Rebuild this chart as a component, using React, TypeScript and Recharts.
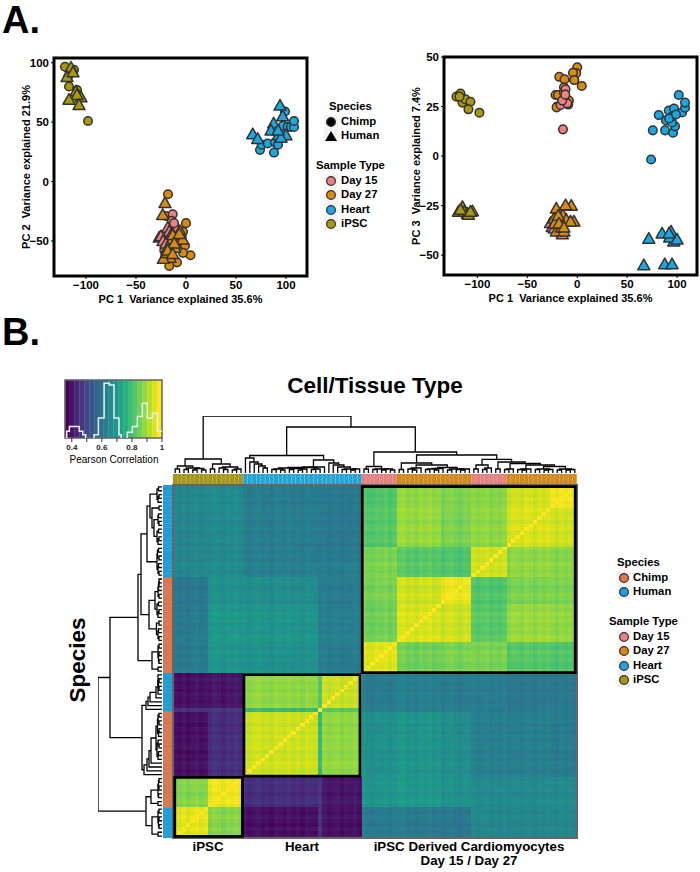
import {
  ScatterChart, Scatter, XAxis, YAxis, ReferenceArea,
  ComposedChart, Line, BarChart, Bar, Cell,
} from 'recharts'

const FONT = '"Liberation Sans", Arial, sans-serif'

const typeColors: Record<string, string> = {
  'Day 15': '#F07F7F',
  'Day 27': '#D98A0F',
  Heart: '#1BA8E0',
  iPSC: '#A89A0B',
}
const speciesColors: Record<string, string> = { Chimp: '#E0784F', Human: '#1BA0DE' }

// PCA values, one list per sample group
const ipscChimpPc1 = [-121, -117, -115, -112, -107, -109, -98, -118]
const ipscChimpPc2 = [96.6, 80, 92, 94, 71, 77, 51, 88]
const ipscChimpPc3 = [30, 31.6, 27, 28.6, 27.4, 23.6, 21.9, 30]
const ipscHumanPc1 = [-115, -119, -113, -110, -105, -109, -117, -107]
const ipscHumanPc2 = [96, 88, 92, 76, 71, 73, 69, 64.5]
const ipscHumanPc3 = [-25.6, -28, -28, -29, -27.8, -29.5, -27, -28]
const heartChimpPc1 = [74, 75.7, 81.7, 88, 89, 96, 98, 95, 91.7, 95, 97, 101.7, 105, 108, 108, 92, 99]
const heartChimpPc2 = [26.7, 31, 32, 24.4, 33, 37, 38, 42, 40, 43, 47, 46, 46, 46, 51, 31, 59]
const heartChimpPc3 = [-1.7, 13, 20.7, 13, 18, 11.8, 15, 17, 23, 20, 24, 30.8, 22, 24.4, 27, 19, 21]
const heartHumanPc1 = [94, 96.7, 66.7, 71.7, 87.7, 85, 92.7, 100, 95, 92]
const heartHumanPc2 = [64, 55, 40, 36, 49, 43, 39, 39, 37, 43]
const heartHumanPc3 = [-38, -43, -55, -41.6, -54.5, -39, -41, -42, -54.5, -39]
const day27ChimpPc1 = [-18, 0, 4.5, -1, -3, -12.7, -16.7, -9, -4.3, -20, -21.7, -19.3, -20.7, -11.7, -8.3, -3, -13.3]
const day27ChimpPc2 = [-10.7, -35, -62, -54, -60, -67, -71, -68, -47, -29, -58, -65, -62, -52, -50, -42, -55]
const day27ChimpPc3 = [40, 44.8, 35.4, 41.8, 38.4, 38.7, 30.8, 26, 42, 25, 30.8, 30.8, 24.6, 27.4, 28, 38.4, 34.7]
const day15ChimpPc1 = [-13.3, -14.3, -11.7, -13, -16.7, -10, -15, -12]
const day15ChimpPc2 = [-27.5, -33, -37, -45, -52, -40, -48, -35]
const day15ChimpPc3 = [32, 13.5, 33.7, 29, 25.8, 26.6, 28, 31]
const day27HumanPc1 = [-21, -23.3, -6, -3.3, -14.3, -18.3, -11, -21, -16, -22.7, -19, -13.3, -6.7, -11.7, -18.3, -13.3]
const day27HumanPc2 = [-18, -28, -41.6, -48.6, -49, -55.6, -55.6, -64, -64, -65, -60, -45, -44, -52, -58, -61]
const day27HumanPc3 = [-26.4, -31.5, -25, -33, -29.8, -37.4, -32, -38, -36, -34, -30, -38, -33, -24.7, -34, -36]
const day15HumanPc1 = [-26.7, -18.3, -25, -13.3, -16.7, -23, -15, -20]
const day15HumanPc2 = [-47, -38.8, -46, -44, -42, -50, -45, -52]
const day15HumanPc3 = [-33.7, -32, -35.7, -32.7, -38, -36.5, -39.4, -34]

const pcaGroups = [
  { type: 'iPSC', species: 'Chimp', pc1: ipscChimpPc1, pc2: ipscChimpPc2, pc3: ipscChimpPc3 },
  { type: 'Heart', species: 'Chimp', pc1: heartChimpPc1, pc2: heartChimpPc2, pc3: heartChimpPc3 },
  { type: 'Day 27', species: 'Chimp', pc1: day27ChimpPc1, pc2: day27ChimpPc2, pc3: day27ChimpPc3 },
  { type: 'Day 15', species: 'Chimp', pc1: day15ChimpPc1, pc2: day15ChimpPc2, pc3: day15ChimpPc3 },
  { type: 'iPSC', species: 'Human', pc1: ipscHumanPc1, pc2: ipscHumanPc2, pc3: ipscHumanPc3 },
  { type: 'Heart', species: 'Human', pc1: heartHumanPc1, pc2: heartHumanPc2, pc3: heartHumanPc3 },
  { type: 'Day 15', species: 'Human', pc1: day15HumanPc1, pc2: day15HumanPc2, pc3: day15HumanPc3 },
  { type: 'Day 27', species: 'Human', pc1: day27HumanPc1, pc2: day27HumanPc2, pc3: day27HumanPc3 },
]

// heatmap: blocks of samples, index 0 is the left column and the bottom row
const blockSizes = [8, 8, 17, 1, 9, 8, 10, 7, 8, 10, 6]
const blockCorrelation = [
  [0.97, 0.88, 0.38, 0.46, 0.38, 0.62, 0.62, 0.61, 0.65, 0.65, 0.65],
  [0.88, 0.98, 0.44, 0.47, 0.39, 0.69, 0.70, 0.68, 0.66, 0.66, 0.66],
  [0.38, 0.44, 0.95, 0.80, 0.89, 0.68, 0.69, 0.67, 0.63, 0.63, 0.62],
  [0.46, 0.47, 0.80, 1.00, 0.84, 0.64, 0.64, 0.64, 0.63, 0.63, 0.63],
  [0.38, 0.39, 0.89, 0.84, 0.94, 0.62, 0.63, 0.62, 0.62, 0.61, 0.61],
  [0.62, 0.69, 0.68, 0.64, 0.62, 0.97, 0.86, 0.87, 0.87, 0.83, 0.82],
  [0.62, 0.70, 0.69, 0.64, 0.63, 0.86, 0.96, 0.95, 0.83, 0.90, 0.89],
  [0.61, 0.68, 0.67, 0.64, 0.62, 0.87, 0.95, 0.98, 0.82, 0.87, 0.87],
  [0.65, 0.66, 0.63, 0.63, 0.62, 0.87, 0.83, 0.82, 0.95, 0.89, 0.88],
  [0.65, 0.66, 0.63, 0.63, 0.61, 0.83, 0.90, 0.87, 0.89, 0.96, 0.95],
  [0.65, 0.66, 0.62, 0.63, 0.61, 0.82, 0.89, 0.87, 0.88, 0.95, 0.98],
]
// per sample lean seen as faint stripes across the blocks
const sampleLean = [
  0.004, -0.006, 0.008, -0.01, 0.002, 0.012, -0.004, 0.006,
  -0.008, 0.01, 0.003, -0.012, 0.006, -0.002, 0.009, -0.005,
  0.007, -0.009, 0.004, 0.011, -0.006, 0.002, -0.011, 0.008, 0.003, -0.004, 0.01, -0.007, 0.005, -0.012, 0.006, 0.001, -0.003,
  -0.012,
  0.009, -0.005, 0.003, 0.011, -0.008, 0.006, -0.002, 0.01, -0.006,
  0.012, -0.007, -0.011, 0.005, -0.002, 0.009, -0.01, 0.004,
  0.007, 0.011, -0.006, 0.003, -0.01, 0.008, -0.003, 0.012, -0.008, 0.002,
  -0.01, 0.006, 0.01, -0.004, -0.012, 0.007, 0.002,
  0.009, -0.006, 0.004, 0.012, -0.009, 0.003, -0.005, 0.008,
  -0.011, 0.006, 0.002, -0.008, 0.01, 0.004, -0.012, 0.007, -0.003, 0.009,
  0.005, -0.007, 0.011, -0.004, 0.008, -0.002,
]
const viridis = [
  '#440154', '#481467', '#482576', '#453781', '#404688', '#39558C', '#33638D', '#2D718E', '#287D8E', '#238A8D',
  '#1F968B', '#20A386', '#29AF7F', '#3CBC75', '#56C667', '#74D055', '#94D840', '#B8DE29', '#DCE318', '#FDE725',
]
const colourMin = 0.355
const colourMax = 1

// annotation strips, same sample order as the heatmap
const columnTypeRuns: [string, number][] = [['iPSC', 16], ['Heart', 27], ['Day 15', 8], ['Day 27', 17], ['Day 15', 8], ['Day 27', 16]]
const rowSpeciesRuns: [string, number][] = [['Human', 8], ['Chimp', 25], ['Human', 10], ['Chimp', 25], ['Human', 24]]

// [from, to] in sample units, for the black cluster boxes
const clusterBoxes = [[0.4, 15.8], [16.15, 42.6], [43.1, 91.6]]

// merge height between each pair of neighbouring leaves
const topMergeHeights = [
  4, 7, 3.5, 5, 3, 4.5, 3, 14, 4, 9, 5, 3.5, 6, 3, 4,
  57,
  15, 11, 9, 7, 5, 17.5, 3.5, 4, 3, 5, 3.5, 4.5, 3, 4, 5.5, 3.5, 4, 6, 13, 10, 8, 6, 3.5, 4, 3, 4,
  46,
  4, 6.5, 3.5, 4, 3, 4, 3,
  21,
  3.5, 10, 4, 3, 5, 8, 3.5, 4, 3, 4.5, 5.5, 3, 4, 3.5, 3, 4,
  18,
  4, 8, 3.5, 5, 13.6, 4, 11, 3.5, 4, 9.5, 3.5, 3, 4, 8, 3.5, 4, 3, 3.5, 6.5, 3, 4, 3, 3.5,
]
const sideMergeHeights = [
  4, 10, 3, 3.5, 3, 4, 3, 16, 4, 11, 3.5, 4, 3, 3.5, 3,
  64,
  18, 15, 13, 11, 4, 3.5, 5, 3, 4, 6, 3.5, 3, 4.5, 3, 4, 3, 20, 16, 14, 12, 6, 4, 3, 3.5, 3, 4,
  52,
  4, 10, 3, 3.5, 3, 4, 3,
  24,
  3, 4, 3.5, 5.5, 3, 13, 4, 3, 5, 3.5, 7, 3, 4, 3.5, 3, 3,
  21,
  3, 4, 3.5, 5, 3, 4.5, 3.5, 15, 4, 3, 5, 3.5, 8, 3, 4, 3.5, 10, 3, 12, 4, 3, 5, 3.5,
]

// histogram over the colour key
const histogramBins = [0.367, 0.367, 0.384, 0.45, 0.473, 0.493, 0.493, 0.52, 0.548, 0.548, 0.577, 0.615, 0.65, 0.681, 0.714, 0.729, 0.74, 0.769, 0.769, 0.803, 0.836, 0.869, 0.902, 0.936, 0.969, 1]
const histogramCounts = [0, 20, 35, 20, 10, 10, 0, null, 0, 10, 60, 165, 160, 60, 10, 0, null, 0, 17, 35, 65, 105, 60, 75, 20, 20]
const colourKeyTicks = [0.4, 0.5, 0.6, 0.7, 0.8, 0.9, 1]
const colourKeyLabels = ['0.4', '', '0.6', '', '0.8', '', '1']

const histogramData = histogramBins.map((x, i) => ({ x, count: histogramCounts[i] }))

const expandRuns = (runs: [string, number][]) => runs.flatMap(([name, n]) => Array.from({ length: n }, () => name))
const columnTypes = expandRuns(columnTypeRuns).map((name, i) => ({ i, name, one: 1 }))
const rowSpecies = expandRuns(rowSpeciesRuns).map((name, i) => ({ i, name, one: 1 }))

const blockOfSample = blockSizes.flatMap((n, b) => Array.from({ length: n }, () => b))
const heatCells = blockOfSample.flatMap((rowBlock, r) =>
  blockOfSample.map((colBlock, c) => ({
    col: c + 0.5,
    row: r + 0.5,
    value: r === c ? 1 : blockCorrelation[rowBlock][colBlock] + sampleLean[r] + sampleLean[c],
  })),
)

const colourOf = (v: number) => {
  const t = Math.max(0, Math.min(1, (v - colourMin) / (colourMax - colourMin))) * (viridis.length - 1)
  const lo = Math.floor(t)
  const hi = Math.min(viridis.length - 1, lo + 1)
  const mix = (a: string, b: string, shift: number) => {
    const ca = (parseInt(a.slice(1), 16) >> shift) & 255
    const cb = (parseInt(b.slice(1), 16) >> shift) & 255
    return Math.round(ca + (cb - ca) * (t - lo))
  }
  return `rgb(${mix(viridis[lo], viridis[hi], 16)},${mix(viridis[lo], viridis[hi], 8)},${mix(viridis[lo], viridis[hi], 0)})`
}

type Pt = { pos: number; h: number }
const buildDendrogram = (heights: number[]) => {
  const links: Pt[][] = []
  const walk = (lo: number, hi: number): Pt => {
    if (lo === hi) return { pos: lo + 0.5, h: 0 }
    let m = lo
    for (let i = lo; i < hi; i++) if (heights[i] > heights[m]) m = i
    const a = walk(lo, m)
    const b = walk(m + 1, hi)
    const h = heights[m]
    links.push([a, { pos: a.pos, h }, { pos: b.pos, h }, b])
    return { pos: (a.pos + b.pos) / 2, h }
  }
  walk(0, heights.length)
  return links
}
const topLinks = buildDendrogram(topMergeHeights)
const sideLinks = buildDendrogram(sideMergeHeights)

const tickStyle = { fill: '#000', fontSize: 11.5, fontWeight: 700, fontFamily: FONT }
const axisLabelStyle = { fill: '#000', fontSize: 11, fontWeight: 700, fontFamily: FONT }
const minus = (v: number) => (v < 0 ? `\u2212${Math.abs(v)}` : `${v}`)

const PcaMark = (props: any) => {
  const { cx, cy, fill, marker } = props
  if (marker === 'Chimp') {
    return <circle cx={cx} cy={cy} r={4.3} fill={fill} stroke="#333" strokeWidth={1.5} />
  }
  return <path d={`M${cx},${cy - 6} L${cx + 6},${cy + 4.6} L${cx - 6},${cy + 4.6} Z`} fill={fill} stroke="#333" strokeWidth={1.5} strokeLinejoin="round" />
}

function PcaPlot({ left, marginTop, marginBottom, width, marginRight, yKey, xDomain, yDomain, yTicks, xLabel, yLabel }: any) {
  return (
    <div style={{ position: 'absolute', left, top: 40 }}>
      <ScatterChart width={width} height={270} margin={{ top: marginTop, right: marginRight, bottom: marginBottom, left: 0 }}>
        <XAxis
          type="number" dataKey="x" domain={xDomain} ticks={[-100, -50, 0, 50, 100]} allowDataOverflow
          tickFormatter={minus} tick={tickStyle} tickSize={3} height={30}
          stroke="#000" interval={0}
          label={{ value: xLabel, position: 'insideBottom', offset: 3, style: axisLabelStyle }}
        />
        <YAxis
          type="number" dataKey="y" domain={yDomain} ticks={yTicks} allowDataOverflow
          tickFormatter={minus} tick={tickStyle} tickSize={3} width={54}
          stroke="#000" interval={0}
          label={{ value: yLabel, angle: -90, position: 'insideLeft', offset: 26, style: { ...axisLabelStyle, textAnchor: 'middle' } }}
        />
        <ReferenceArea x1={xDomain[0]} x2={xDomain[1]} y1={yDomain[0]} y2={yDomain[1]} fill="none" stroke="#000" strokeWidth={3} />
        {pcaGroups.map((g) => (
          <Scatter
            key={g.type + g.species}
            data={g.pc1.map((x: number, i: number) => ({ x, y: (g as any)[yKey][i] }))}
            fill={typeColors[g.type]}
            shape={(p: any) => <PcaMark {...p} fill={typeColors[g.type]} marker={g.species} />}
            isAnimationActive={false}
          />
        ))}
      </ScatterChart>
    </div>
  )
}

const HeatCell = (props: any) => (
  <rect
    x={props.cx - 2.35} y={props.cy - 2.1} width={4.7} height={4.2}
    fill={colourOf(props.payload.value)} shapeRendering="crispEdges"
  />
)

function Heatmap() {
  const axes = [
    <XAxis key="x" type="number" dataKey="col" domain={[0, 92]} hide allowDataOverflow />,
    <YAxis key="y" type="number" dataKey="row" domain={[0, 92]} hide allowDataOverflow />,
  ]
  const chartProps = { width: 410, height: 359, margin: { top: 3, right: 3, bottom: 3, left: 3 } }
  return (
    <>
      <div style={{ position: 'absolute', left: 170, top: 482 }}>
        <ScatterChart {...chartProps}>
          {axes}
          <Scatter data={heatCells} shape={HeatCell} isAnimationActive={false} />
        </ScatterChart>
      </div>
      {/* second layer so the frames sit on top of the cells */}
      <div style={{ position: 'absolute', left: 170, top: 482 }}>
        <ScatterChart {...chartProps}>
          {axes}
          <ReferenceArea x1={0} x2={92} y1={0} y2={92} fill="none" stroke="#666" strokeWidth={2} />
          {clusterBoxes.map(([a, b]) => (
            <ReferenceArea key={a} x1={a} x2={b} y1={a} y2={b} fill="none" stroke="#000" strokeWidth={2.8} />
          ))}
        </ScatterChart>
      </div>
    </>
  )
}

function Dendrogram({ links, side, style, width, height, domain }: any) {
  return (
    <div style={{ position: 'absolute', ...style }}>
      <ScatterChart width={width} height={height} margin={{ top: 2, right: 2, bottom: 2, left: 2 }}>
        <XAxis type="number" dataKey="x" domain={side ? [0, domain] : [0, 92]} reversed={side} hide allowDataOverflow />
        <YAxis type="number" dataKey="y" domain={side ? [0, 92] : [0, domain]} hide allowDataOverflow />
        {links.map((link: Pt[], i: number) => (
          <Scatter
            key={i}
            data={link.map((p) => (side ? { x: p.h, y: p.pos } : { x: p.pos, y: p.h }))}
            line={{ stroke: '#000', strokeWidth: 1.3 }}
            shape={() => <g />}
            isAnimationActive={false}
          />
        ))}
      </ScatterChart>
    </div>
  )
}

function ColumnStrip() {
  return (
    <div style={{ position: 'absolute', left: 173, top: 474 }}>
      <BarChart width={404} height={10} data={columnTypes} margin={{ top: 0, right: 0, bottom: 0, left: 0 }} barCategoryGap={0}>
        <XAxis dataKey="i" hide />
        <YAxis domain={[0, 1]} hide />
        <Bar dataKey="one" isAnimationActive={false} stroke="#777" strokeWidth={0.25}>
          {columnTypes.map((d) => <Cell key={d.i} fill={typeColors[d.name]} />)}
        </Bar>
      </BarChart>
    </div>
  )
}

function RowStrip() {
  return (
    <div style={{ position: 'absolute', left: 163, top: 485 }}>
      <BarChart layout="vertical" width={9.5} height={353} data={rowSpecies} margin={{ top: 0, right: 0, bottom: 0, left: 0 }} barCategoryGap={0}>
        <XAxis type="number" domain={[0, 1]} hide />
        <YAxis type="category" dataKey="i" reversed hide />
        <Bar dataKey="one" isAnimationActive={false} stroke="#777" strokeWidth={0.25}>
          {rowSpecies.map((d) => <Cell key={d.i} fill={speciesColors[d.name]} />)}
        </Bar>
      </BarChart>
    </div>
  )
}

function ColourKey() {
  const step = (colourMax - colourMin) / viridis.length
  return (
    <div style={{ position: 'absolute', left: 60, top: 376 }}>
      <ComposedChart
        width={107} height={78} data={histogramData}
        margin={{ top: 4, right: 5, bottom: 0, left: 5 }}
      >
        <XAxis
          type="number" dataKey="x" domain={[colourMin, colourMax]} ticks={colourKeyTicks} interval={0} allowDataOverflow
          tickFormatter={(v: number) => colourKeyLabels[colourKeyTicks.indexOf(v)]}
          tick={{ fill: '#222', fontSize: 8, fontWeight: 700, fontFamily: FONT }}
          tickSize={4} height={16} stroke="#333" axisLine={false}
        />
        <YAxis type="number" domain={[0, 175]} hide />
        {viridis.map((c, i) => (
          <ReferenceArea
            key={c} x1={colourMin + i * step} x2={colourMin + (i + 1) * step} y1={0} y2={175}
            fill={c} fillOpacity={1} stroke={c} strokeWidth={0.3}
          />
        ))}
        <Line
          dataKey="count" type="stepAfter" stroke="#E6F2F2" strokeWidth={1.5}
          dot={false} isAnimationActive={false} connectNulls={false}
        />
        <ReferenceArea x1={colourMin} x2={colourMax} y1={0} y2={175} fill="none" stroke="#666" strokeWidth={1.5} />
      </ComposedChart>
    </div>
  )
}

function Txt({ x, y, size = 11.3, weight = 700, anchor = 'left', rotate, children }: any) {
  const shift = anchor === 'center' ? '-50%' : '0'
  return (
    <div
      style={{
        position: 'absolute', left: x, top: y, fontFamily: FONT, fontSize: size, fontWeight: weight,
        lineHeight: 1, whiteSpace: 'pre', color: '#000',
        transform: `translate(${shift}, -50%)${rotate ? ` rotate(${rotate}deg)` : ''}`,
      }}
    >
      {children}
    </div>
  )
}

function KeyDot({ x, y, fill, triangle }: any) {
  return (
    <svg style={{ position: 'absolute', left: x - 7, top: y - 7 }} width={14} height={14}>
      <rect width={14} height={14} fill="#F4F4F4" />
      {triangle
        ? <path d="M7,2 L13,12 L1,12 Z" fill={fill} />
        : <circle cx={7} cy={7} r={4.4} fill={fill} stroke="#333" strokeWidth={1.2} />}
    </svg>
  )
}

function Legend({ x, textX, titleX, speciesX, ys, speciesFill }: any) {
  const types = Object.keys(typeColors)
  return (
    <>
      <Txt x={speciesX} y={ys.species}>Species</Txt>
      {['Chimp', 'Human'].map((s, i) => (
        <div key={s}>
          <KeyDot x={x} y={ys.species + 15 + i * 14} fill={speciesFill ? speciesColors[s] : '#000'} triangle={!speciesFill && s === 'Human'} />
          <Txt x={textX} y={ys.species + 15 + i * 14}>{s}</Txt>
        </div>
      ))}
      <Txt x={titleX} y={ys.type}>Sample Type</Txt>
      {types.map((t, i) => (
        <div key={t}>
          <KeyDot x={x} y={ys.type + 15 + i * 14.3} fill={typeColors[t]} />
          <Txt x={textX} y={ys.type + 15 + i * 14.3}>{t}</Txt>
        </div>
      ))}
    </>
  )
}

const pc1Label = 'PC 1\u00a0\u00a0Variance explained 35.6%'

export default function App() {
  return (
    <div style={{ position: 'absolute', left: 0, top: 0, width: 700, height: 872, background: '#fff', overflow: 'hidden' }}>
      <Txt x={2} y={19.5} size={38}>A.</Txt>
      <Txt x={2} y={332} size={38}>B.</Txt>

      <PcaPlot
        left={0} width={330} marginRight={23} marginTop={18} marginBottom={4} yKey="pc2"
        xDomain={[-132, 121]} yDomain={[-79.5, 104]} yTicks={[-50, 0, 50, 100]}
        xLabel={pc1Label} yLabel={'PC 2\u00a0\u00a0Variance explained 21.9%'}
      />
      <PcaPlot
        left={390} width={310} marginRight={3} marginTop={17} marginBottom={5} yKey="pc3"
        xDomain={[-133.5, 120]} yDomain={[-60, 50]} yTicks={[-50, -25, 0, 25, 50]}
        xLabel={pc1Label} yLabel={'PC 3\u00a0\u00a0Variance explained 7.4%'}
      />
      <Legend x={331} textX={341} titleX={316} speciesX={329} ys={{ species: 107, type: 166 }} />

      <Txt x={375} y={386} size={22.5} anchor="center">Cell/Tissue Type</Txt>
      <Txt x={78} y={660} size={22.5} anchor="center" rotate={-90}>Species</Txt>

      <ColourKey />
      <Txt x={114} y={460} size={10} weight={400} anchor="center">Pearson Correlation</Txt>

      <Dendrogram links={topLinks} domain={57} width={408} height={61} style={{ left: 171, top: 414 }} />
      <Dendrogram links={sideLinks} side domain={64} width={68} height={357} style={{ left: 96, top: 483 }} />
      <ColumnStrip />
      <RowStrip />
      <Heatmap />

      <Txt x={208} y={847} size={13.3} anchor="center">iPSC</Txt>
      <Txt x={302} y={847} size={13.3} anchor="center">Heart</Txt>
      <Txt x={469} y={847} size={13.3} anchor="center">iPSC Derived Cardiomyocytes</Txt>
      <Txt x={469} y={861} size={13.3} anchor="center">Day 15 / Day 27</Txt>

      <Legend x={624} textX={633} titleX={609} speciesX={617} speciesFill ys={{ species: 563, type: 622 }} />
    </div>
  )
}
